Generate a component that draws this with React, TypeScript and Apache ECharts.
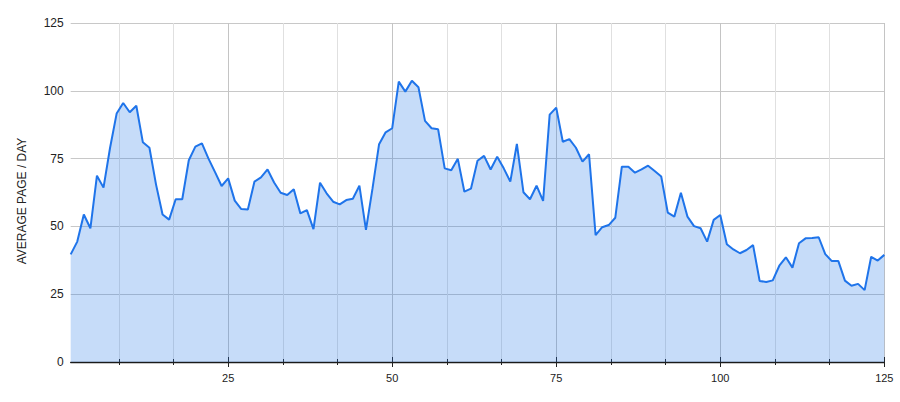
import React, { useEffect, useRef } from 'react';
import * as echarts from 'echarts';

// Average pages per day, for day 1 .. 125
const pagesPerDay: number[] = [
  39.7, 44.4, 54.4, 49.3, 68.7, 64.3, 79.0, 91.6, 95.5, 92.1,
  94.5, 81.0, 79.0, 65.5, 54.4, 52.5, 60.0, 60.0, 74.4, 79.4,
  80.6, 75.0, 70.0, 64.9, 67.7, 59.5, 56.4, 56.2, 66.5, 68.1,
  71.0, 66.2, 62.4, 61.6, 63.7, 54.8, 56.0, 49.0, 66.1, 62.2,
  59.1, 58.1, 59.7, 60.2, 65.0, 48.7, 64.0, 80.3, 84.7, 86.2,
  103.4, 99.7, 103.7, 101.3, 88.9, 86.2, 85.8, 71.4, 70.7, 74.9,
  62.8, 63.9, 74.2, 76.0, 71.0, 75.7, 71.4, 66.5, 80.4, 62.6,
  60.0, 65.0, 59.4, 91.2, 93.8, 81.2, 82.2, 79.0, 73.9, 76.6,
  46.8, 49.7, 50.5, 53.2, 72.0, 72.0, 69.8, 71.0, 72.4, 70.4,
  68.4, 55.1, 53.6, 62.4, 53.6, 50.1, 49.3, 44.4, 52.4, 54.2,
  43.4, 41.5, 40.1, 41.3, 43.1, 29.9, 29.5, 30.1, 35.5, 38.6,
  34.8, 43.8, 45.6, 45.7, 46.0, 39.8, 37.2, 37.2, 30.0, 28.1,
  28.8, 26.5, 38.8, 37.4, 39.5,
];
const firstDay = 1;
const lastDay = 125;
const xLabelValues: number[] = [25, 50, 75, 100, 125];
const xGridStep = 25 / 3;
const yMax = 125;
const yStep = 25;
const yTitle = 'AVERAGE PAGE / DAY';

const FONT = '"Liberation Sans", Arial, Helvetica, sans-serif';

export default function App() {
  const ref = useRef<HTMLDivElement>(null);
  useEffect(() => {
    document.body.style.margin = '0';
    const chart = echarts.init(ref.current!, undefined, { renderer: 'svg' });
    const data = pagesPerDay.map((v, i) => [firstDay + i, v]);
    const gridValues: number[] = [];
    for (let k = 1; k * xGridStep <= lastDay + 1e-6; k++) gridValues.push(+(k * xGridStep).toFixed(4));
    const minorCols = gridValues.map((v) =>
      xLabelValues.some((m) => Math.abs(m - v) < 1e-3) ? '#c4c4c4' : '#e0e0e0'
    );
    const baseX = {
      type: 'value' as const,
      min: firstDay,
      max: lastDay,
      position: 'bottom' as const,
      offset: 0,
      axisLabel: { show: false },
      splitLine: { show: false },
      axisLine: { show: false },
    };
    chart.setOption({
      animation: false,
      grid: { left: 70.7, right: 15.7, top: 23, bottom: 40 },
      xAxis: [
        {
          ...baseX,
          axisLine: { show: true, lineStyle: { color: '#1a1a1a', width: 1.3 } },
          axisTick: { show: true, customValues: gridValues, length: 3, lineStyle: { color: '#222' } },
          splitLine: { show: true, lineStyle: { color: minorCols, width: 1 } },
        },
        {
          ...baseX,
          axisTick: { show: true, customValues: gridValues, inside: true, length: 3, lineStyle: { color: '#222' } },
        },
        {
          ...baseX,
          axisTick: { show: true, customValues: xLabelValues, length: 5, lineStyle: { color: '#222' } },
          axisLabel: {
            show: true,
            customValues: xLabelValues,
            color: '#222',
            fontSize: 11,
            fontFamily: FONT,
            margin: 10,
          },
        },
        {
          ...baseX,
          axisTick: { show: true, customValues: xLabelValues, inside: true, length: 5, lineStyle: { color: '#222' } },
        },
      ],
      yAxis: {
        type: 'value',
        min: 0,
        max: yMax,
        interval: yStep,
        axisLine: { show: false },
        axisTick: { show: false },
        axisLabel: { color: '#222', fontSize: 12, fontFamily: FONT, margin: 7 },
        splitLine: { show: true, lineStyle: { color: '#c8c8c8', width: 1 } },
      },
      graphic: [
        {
          type: 'text',
          x: 22,
          y: 201,
          rotation: Math.PI / 2,
          style: {
            text: yTitle,
            font: `12px ${FONT}`,
            fill: '#222',
            textAlign: 'center',
            textVerticalAlign: 'middle',
          },
        },
      ],
      series: [
        {
          type: 'line',
          xAxisIndex: 0,
          data,
          symbol: 'none',
          lineStyle: { color: '#1f74ea', width: 2 },
          areaStyle: { color: 'rgba(26,115,232,0.25)', opacity: 1 },
          itemStyle: { color: '#1f74ea' },
        },
      ],
    });
    return () => chart.dispose();
  }, []);
  return <div ref={ref} style={{ position: 'absolute', left: 0, top: 0, width: 900, height: 402 }} />;
}
